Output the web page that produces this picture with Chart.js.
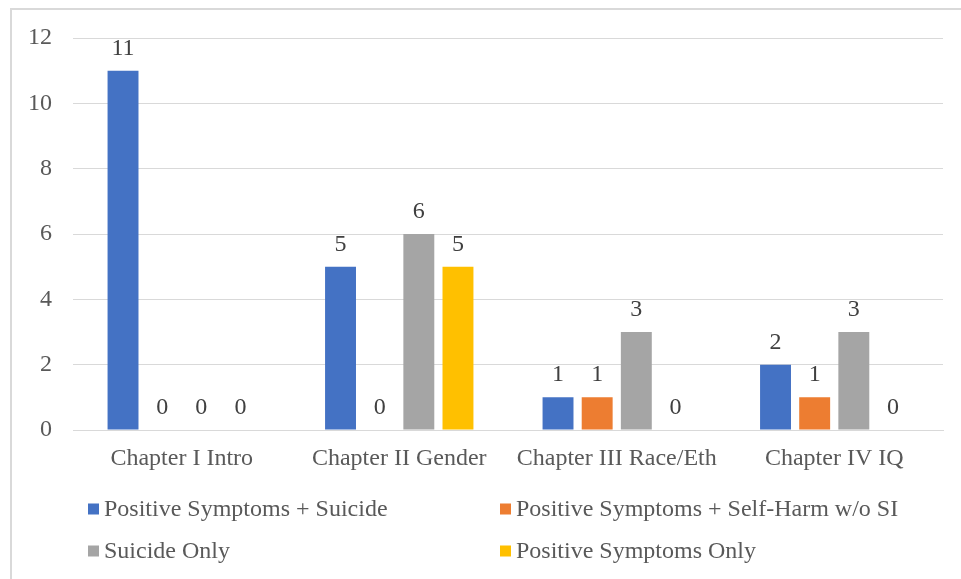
<!DOCTYPE html>
<html>
<head>
<meta charset="utf-8">
<script src="https://cdn.jsdelivr.net/npm/chart.js@4/dist/chart.umd.min.js"></script>
<style>
  html, body { margin: 0; padding: 0; background: #ffffff; }
  #wrap { position: relative; width: 961px; height: 579px; }
</style>
</head>
<body>
<div id="wrap"><canvas id="chart" width="961" height="579"></canvas></div>
<script>
// Categories (chapters) and counts per symptom group
const categories = ["Chapter I Intro", "Chapter II Gender", "Chapter III Race/Eth", "Chapter IV IQ"];
const seriesNames = [
  "Positive Symptoms + Suicide",
  "Positive Symptoms + Self-Harm w/o SI",
  "Suicide Only",
  "Positive Symptoms Only"
];
const positiveSuicide = [11, 5, 1, 2];
const positiveSelfHarm = [0, 0, 1, 1];
const suicideOnly = [0, 6, 3, 3];
const positiveOnly = [0, 5, 0, 0];
const yTicks = [0, 2, 4, 6, 8, 10, 12];

const colors = ["#4472C4", "#ED7D31", "#A5A5A5", "#FFC000"];
const FONT = "'Liberation Serif', 'Times New Roman', serif";

// Thin frame along the top and left edges
const framePlugin = {
  id: "frame",
  beforeDraw(chart) {
    const ctx = chart.ctx;
    ctx.save();
    ctx.fillStyle = "#ffffff";
    ctx.fillRect(0, 0, chart.width, chart.height);
    ctx.strokeStyle = "#D9D9D9";
    ctx.lineWidth = 2;
    ctx.beginPath();
    ctx.moveTo(11, chart.height);
    ctx.lineTo(11, 9);
    ctx.lineTo(chart.width, 9);
    ctx.stroke();
    ctx.restore();
  }
};

// Value labels above every bar, including zero-height ones
const valueLabelPlugin = {
  id: "valueLabels",
  afterDatasetsDraw(chart) {
    const ctx = chart.ctx;
    ctx.save();
    ctx.font = "24px " + FONT;
    ctx.fillStyle = "#404040";
    ctx.textAlign = "center";
    ctx.textBaseline = "alphabetic";
    chart.data.datasets.forEach((ds, i) => {
      const meta = chart.getDatasetMeta(i);
      meta.data.forEach((bar, j) => {
        ctx.fillText(String(ds.data[j]), bar.x, bar.y - 16);
      });
    });
    ctx.restore();
  }
};

// Two-column legend below the axis
const gridLegendPlugin = {
  id: "gridLegend",
  afterDraw(chart) {
    const ctx = chart.ctx;
    const cols = [88, 500];
    const rows = [509, 551];
    ctx.save();
    ctx.font = "24px " + FONT;
    ctx.textBaseline = "middle";
    ctx.textAlign = "left";
    chart.data.datasets.forEach((ds, i) => {
      const x = cols[i % 2];
      const y = rows[Math.floor(i / 2)];
      ctx.fillStyle = ds.backgroundColor;
      ctx.fillRect(x, y - 5.5, 11, 11);
      ctx.fillStyle = "#595959";
      ctx.fillText(ds.label, x + 16, y + 1);
    });
    ctx.restore();
  }
};

const seriesValues = [positiveSuicide, positiveSelfHarm, suicideOnly, positiveOnly];

new Chart(document.getElementById("chart"), {
  type: "bar",
  data: {
    labels: categories,
    datasets: seriesValues.map((vals, i) => ({
      label: seriesNames[i],
      data: vals,
      backgroundColor: colors[i],
      borderWidth: 0,
      categoryPercentage: 0.72,
      barPercentage: 0.79
    }))
  },
  options: {
    responsive: false,
    animation: false,
    devicePixelRatio: 1,
    layout: { padding: { left: 10, right: 18, top: 38, bottom: 109 } },
    plugins: {
      legend: { display: false },
      tooltip: { enabled: false }
    },
    scales: {
      x: {
        grid: { display: false, drawTicks: false },
        border: { display: true, color: "#D9D9D9", width: 1 },
        ticks: {
          color: "#595959",
          font: { family: FONT, size: 24 },
          padding: 14,
          maxRotation: 0,
          autoSkip: false
        },
        afterFit(scale) { scale.height = 40; }
      },
      y: {
        min: 0,
        max: 12,
        afterBuildTicks(scale) { scale.ticks = yTicks.map(v => ({ value: v })); },
        grid: { color: "#D9D9D9", lineWidth: 1, drawTicks: false },
        border: { display: false },
        ticks: {
          color: "#595959",
          font: { family: FONT, size: 24 },
          padding: 21
        },
        afterFit(scale) { scale.width = 63; }
      }
    }
  },
  plugins: [framePlugin, valueLabelPlugin, gridLegendPlugin]
});
</script>
</body>
</html>
